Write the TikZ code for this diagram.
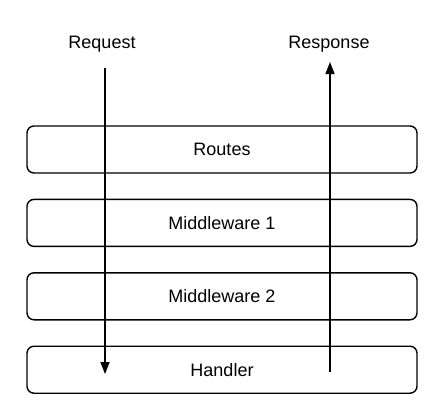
\documentclass[tikz,border=0pt]{standalone}
\usepackage{fontspec}
\setmainfont{Liberation Sans}
\usetikzlibrary{positioning,arrows.meta}
\begin{document}
\begin{tikzpicture}[x=1pt,y=-1pt,
        every node/.style={font=\fontsize{18}{22}\selectfont}, % Arial-like labels
        layer/.style={draw,line width=1.4pt,rounded corners=7pt,minimum width=390pt,minimum height=47pt},
        flow/.style={line width=1.4pt,-{Triangle[length=12pt,width=9pt]}}
    ]
        \useasboundingbox (0,0) rectangle (444,416);
        \node[layer] (routes) at (222,149.5) {Routes};
        \node[layer,below=25pt of routes] (mwone) {Middleware 1};
        \node[layer,below=25pt of mwone] (mwtwo) {Middleware 2};
        \node[layer,below=25pt of mwtwo] (handler) {Handler};
        \node (request) at (102,44) {Request};
        \node (response) at (329,44) {Response};
        \coordinate (reqtop) at (105,68);
        \coordinate (reqend) at (105,374);
        \coordinate (resstart) at (330,372);
        \coordinate (restop) at (330,62);
        \draw[flow] (reqtop) -- (reqend);
        \draw[flow] (resstart) -- (restop);
    \end{tikzpicture}
\end{document}
